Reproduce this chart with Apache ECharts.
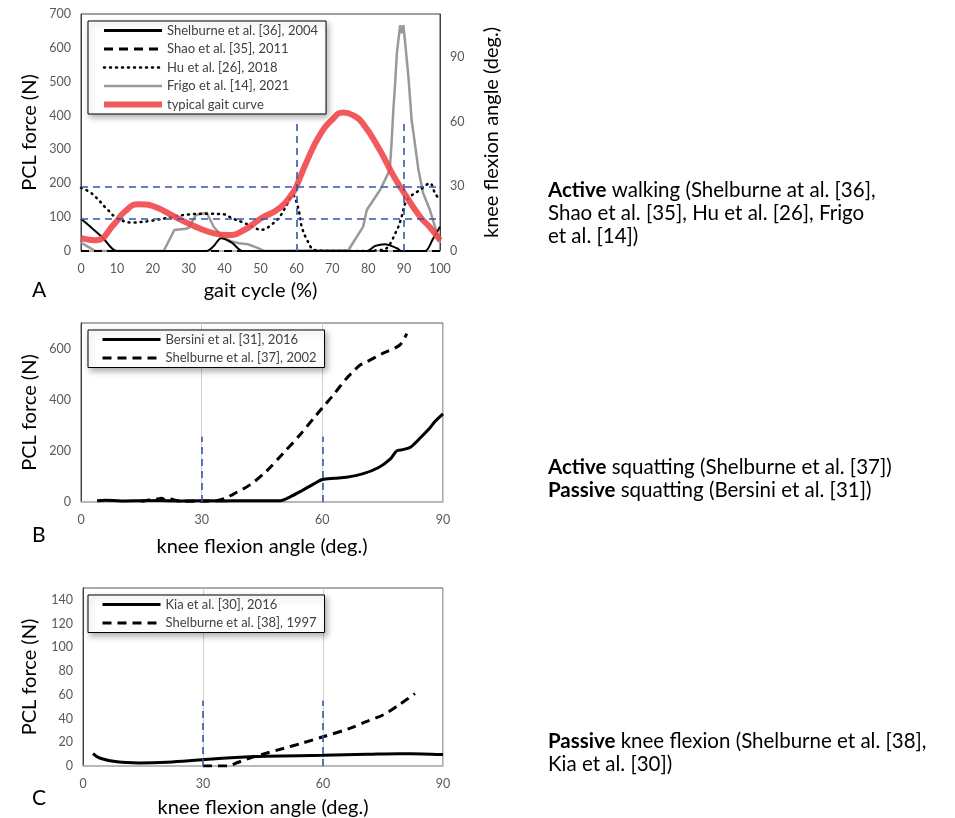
<!DOCTYPE html>
<html>
<head>
<meta charset="utf-8">
<title>PCL force</title>
<script src="https://cdn.jsdelivr.net/npm/echarts@6/dist/echarts.min.js"></script>
<style>
  html, body { margin: 0; padding: 0; background: #fff; }
  #main { width: 955px; height: 818px; }
</style>
</head>
<body>
<div id="main"></div>
<script>
// ---- panel A : walking, PCL force (N) vs gait cycle (%) ----
var shelburne04X = [0, 3, 6, 10, 35, 37, 39, 42, 45, 79.6, 82, 84.7, 88, 89.3, 95.8, 98, 100]
var shelburne04Y = [95, 68, 40, 0, 0, 15, 38, 25, 0, 0, 15, 20, 8, 0, 0, 35, 72]
var shao11X = [0, 25, 50, 75, 100]
var shao11Y = [0, 0, 0, 0, 0]
var hu18X = [0, 3, 7.5, 10, 14, 20, 25, 30, 35, 40, 42, 45, 48.5, 50, 54.6, 57, 59, 60.5, 61.5, 63, 65, 70, 80, 82.4, 84.7, 88, 89.3, 90.3, 91.6, 94.4, 97.2, 98.6, 100]
var hu18Y = [187, 170, 121, 97, 84, 90, 100, 108, 110, 108, 97, 85, 68, 62, 92, 130, 165, 127, 71, 32, 3, 0, 0, 2, 5, 62, 101, 140, 160, 180, 200, 171, 150]
var frigo21X = [0, 2, 4, 23, 24, 26, 29, 30, 32, 35, 37, 39.5, 42, 44, 46.5, 49, 51, 74.5, 78.6, 79.6, 83.3, 86, 86.5, 87, 87.5, 88, 88.4, 88.9, 89.3, 89.8, 90.3, 91.2, 92.1, 93, 94, 95.3, 97.2, 98.6, 100]
var frigo21Y = [25, 12, 0, 0, 20, 62, 66, 68, 106, 113, 71, 41, 28, 23, 20, 10, 0, 3, 72, 121, 180, 239, 318, 416, 495, 585, 623, 667, 643, 667, 614, 515, 387, 318, 239, 171, 121, 72, 23]
// typical gait curve, knee flexion angle (deg.)
var gaitX = [0, 4, 9.5, 12, 16, 20.6, 26, 32, 37, 41, 45.7, 50, 55.4, 59, 60, 63, 66.6, 70, 73, 75.8, 78.6, 83.3, 87, 90, 94.4, 97.2, 100]
var gaitY = [6, 5, 13, 18, 21.7, 20.5, 16, 11.2, 8.2, 7.4, 10, 15, 20, 27, 30, 42, 54, 61, 64.3, 63, 59, 46.6, 35, 27, 16, 11, 5]
var refDegA = [15, 30]       // horizontal reference lines (deg.)
var refCycleA = [60, 90]     // vertical reference lines (%)
var refCycleTopA = 60        // vertical lines reach 60 deg.

// ---- panel B : squatting ----
var bersini16X = [4, 6, 10, 15, 20, 25, 30, 35, 40, 45, 49.5, 52, 55, 58, 60, 63, 66, 70, 74, 77, 78.5, 80, 82, 84, 86.5, 88, 90]
var bersini16Y = [5, 7, 4, 5, 6, 4, 5, 4, 5, 5, 5, 20, 45, 72, 88, 93, 97, 110, 135, 170, 200, 205, 215, 245, 285, 315, 345]
var shelburne02X = [15, 17, 19, 20, 21, 22, 24, 26, 30, 34, 36, 37.8, 42, 46, 50.3, 54.4, 58.5, 60.6, 62.7, 66, 68, 69.3, 71, 75, 79.2, 81]
var shelburne02Y = [3, 8, 12, 15, 8, 12, 5, 3, 3, 6, 15, 30, 67, 119, 191, 262, 340, 379, 418, 483, 515, 535, 548, 581, 613, 658]
var refAngleB = [30, 60]
var refTopB = 255

// ---- panel C : passive knee flexion ----
var kia16X = [2.5, 4.3, 8.5, 14, 21, 29, 37, 46, 60, 71, 79, 85, 90]
var kia16Y = [10.5, 6.5, 3.5, 2.6, 3.2, 5, 7, 8.3, 9, 9.8, 10.3, 10.2, 9.6]
var shelburne97X = [30, 36, 39, 42.6, 46, 50, 55, 60, 66.7, 70.8, 75, 79, 83]
var shelburne97Y = [0, 0, 3.4, 7.7, 11, 14.7, 19.5, 24.6, 31.7, 37.4, 43, 51.6, 61]
var refAngleC = [30, 60]
var refTopC = 55

var FONT = 'Lato, "Open Sans", sans-serif'
var TICK = { color: '#595959', fontSize: 12.5, fontFamily: FONT }
var TITLE = { color: '#000', fontSize: 20, fontFamily: FONT }
var BLUE = '#3557a8'

// line looks, shared by series and legend icons
var SOLID = { color: '#000', width: 3 }
var DASHED = { color: '#000', width: 3, type: [9, 6] }
var DOTTED = { color: '#000', width: 2.5, type: [1, 5], cap: 'round' }
var GREY = { color: '#999999', width: 2.5 }
var RED = { color: '#f0474a', width: 6, opacity: 0.9 }

function zip(xs, ys) {
  return xs.map(function (x, i) { return [x, ys[i]] })
}

function vLines(xs, top) {
  return xs.map(function (x) { return [{ coord: [x, 0] }, { coord: [x, top] }] })
}

function refMark(data) {
  return {
    silent: true,
    symbol: 'none',
    label: { show: false },
    lineStyle: { color: BLUE, width: 1.6, type: [7, 5] },
    data: data
  }
}

function xAxisOf(gridIndex, max, interval, name, gap, split) {
  return {
    type: 'value',
    gridIndex: gridIndex,
    min: 0,
    max: max,
    interval: interval,
    name: name,
    nameLocation: 'middle',
    nameGap: gap,
    nameTextStyle: TITLE,
    axisLine: { show: true, onZero: false, lineStyle: { color: '#bfbfbf', width: 1.5 } },
    axisTick: { show: false },
    axisLabel: Object.assign({ margin: 11 }, TICK),
    splitLine: { show: split, lineStyle: { color: '#d0d0d0', width: 1 } }
  }
}

function yAxisOf(gridIndex, max, interval, name, gap, position) {
  return {
    type: 'value',
    gridIndex: gridIndex,
    position: position || 'left',
    min: 0,
    max: max,
    interval: interval,
    name: name,
    nameLocation: 'middle',
    nameGap: gap,
    nameTextStyle: TITLE,
    axisLine: { show: true, lineStyle: { color: '#404040', width: 1 } },
    axisTick: { show: false },
    axisLabel: Object.assign({ margin: 10, showMaxLabel: max % interval === 0 }, TICK),
    splitLine: { show: false }
  }
}

function legendOf(top, items) {
  return {
    orient: 'vertical',
    left: 88,
    top: top,
    data: items.map(function (it) { return { name: it[0], lineStyle: it[1], itemStyle: { opacity: 0 } } }),
    itemWidth: 58,
    itemHeight: 10,
    itemGap: 5.5,
    padding: [3, 8, 3, 13],
    borderColor: '#000',
    borderWidth: 1,
    backgroundColor: '#fff',
    shadowColor: 'rgba(0,0,0,0.3)',
    shadowBlur: 6,
    shadowOffsetX: 2,
    shadowOffsetY: 3,
    selectedMode: false,
    itemStyle: { opacity: 0 },
    textStyle: { color: '#404040', fontSize: 13, fontFamily: FONT, lineHeight: 12 }
  }
}

function lineSeries(name, xi, yi, data, style, smooth) {
  return {
    name: name,
    type: 'line',
    xAxisIndex: xi,
    yAxisIndex: yi,
    data: data,
    symbol: 'none',
    showSymbol: false,
    smooth: smooth || false,
    itemStyle: { color: style.color },
    lineStyle: style,
    z: 3
  }
}

var chart = echarts.init(document.getElementById('main'))

chart.setOption({
  animation: false,
  backgroundColor: '#fff',
  textStyle: { fontFamily: FONT },
  grid: [
    { left: 81, top: 14, width: 359, height: 237, show: true, borderColor: '#404040', borderWidth: 1, outerBoundsMode: 'none' },
    { left: 81, top: 323, width: 362, height: 179, show: true, borderColor: '#595959', borderWidth: 1, outerBoundsMode: 'none' },
    { left: 83, top: 588, width: 360, height: 178, show: true, borderColor: '#595959', borderWidth: 1, outerBoundsMode: 'none' }
  ],
  xAxis: [
    xAxisOf(0, 100, 10, 'gait cycle (%)', 30, false),
    xAxisOf(1, 90, 30, 'knee flexion angle (deg.)', 35, true),
    xAxisOf(2, 90, 30, 'knee flexion angle (deg.)', 32, true)
  ],
  yAxis: [
    yAxisOf(0, 700, 100, 'PCL force (N)', 41),
    yAxisOf(0, 110, 30, 'knee flexion angle (deg.)', 42, 'right'),
    yAxisOf(1, 700, 200, 'PCL force (N)', 41),
    yAxisOf(2, 150, 20, 'PCL force (N)', 43)
  ],
  legend: [
    legendOf(21, [
      ['Shelburne et al. [36], 2004', SOLID],
      ['Shao et al. [35], 2011', DASHED],
      ['Hu et al. [26], 2018', DOTTED],
      ['Frigo et al. [14], 2021', GREY],
      ['typical gait curve', RED]
    ]),
    legendOf(330, [['Bersini et al. [31], 2016', SOLID], ['Shelburne et al. [37], 2002', DASHED]]),
    legendOf(595, [['Kia et al. [30], 2016', SOLID], ['Shelburne et al. [38], 1997', DASHED]])
  ],
  series: [
    lineSeries('Frigo et al. [14], 2021', 0, 0, zip(frigo21X, frigo21Y), GREY),
    lineSeries('Shelburne et al. [36], 2004', 0, 0, zip(shelburne04X, shelburne04Y), { color: '#000', width: 2 }, 0.3),
    lineSeries('Shao et al. [35], 2011', 0, 0, zip(shao11X, shao11Y), { color: '#000', width: 2, type: [8, 5] }),
    lineSeries('Hu et al. [26], 2018', 0, 0, zip(hu18X, hu18Y), DOTTED, 0.35),
    Object.assign(
      lineSeries('typical gait curve', 0, 1, zip(gaitX, gaitY), RED, 0.5),
      {
        markLine: refMark(
          refDegA.map(function (d) { return { yAxis: d } }).concat(vLines(refCycleA, refCycleTopA))
        )
      }
    ),
    Object.assign(
      lineSeries('Bersini et al. [31], 2016', 1, 2, zip(bersini16X, bersini16Y), SOLID, 0.3),
      { markLine: refMark(vLines(refAngleB, refTopB)) }
    ),
    lineSeries('Shelburne et al. [37], 2002', 1, 2, zip(shelburne02X, shelburne02Y), DASHED, 0.3),
    Object.assign(
      lineSeries('Kia et al. [30], 2016', 2, 3, zip(kia16X, kia16Y), SOLID, 0.4),
      { markLine: refMark(vLines(refAngleC, refTopC)) }
    ),
    lineSeries('Shelburne et al. [38], 1997', 2, 3, zip(shelburne97X, shelburne97Y), DASHED, 0.3)
  ],
  graphic: [
    { type: 'text', left: 32, top: 280, style: { text: 'A', fontSize: 21, fontFamily: FONT, fill: '#000' } },
    { type: 'text', left: 32, top: 525, style: { text: 'B', fontSize: 21, fontFamily: FONT, fill: '#000' } },
    { type: 'text', left: 32, top: 788, style: { text: 'C', fontSize: 21, fontFamily: FONT, fill: '#000' } },
    {
      type: 'text', left: 548, top: 179,
      style: {
        text: '{b|Active} walking (Shelburne at al. [36],\nShao et al. [35], Hu et al. [26], Frigo\net al. [14])',
        fontSize: 20.5, fontFamily: FONT, fill: '#000', lineHeight: 23,
        rich: { b: { fontWeight: 'bold', fontSize: 20.5, fontFamily: FONT, lineHeight: 23 } }
      }
    },
    {
      type: 'text', left: 548, top: 456,
      style: {
        text: '{b|Active} squatting (Shelburne et al. [37])\n{b|Passive} squatting (Bersini et al. [31])',
        fontSize: 20.5, fontFamily: FONT, fill: '#000', lineHeight: 23,
        rich: { b: { fontWeight: 'bold', fontSize: 20.5, fontFamily: FONT, lineHeight: 23 } }
      }
    },
    {
      type: 'text', left: 548, top: 730,
      style: {
        text: '{b|Passive} knee flexion (Shelburne et al. [38],\nKia et al. [30])',
        fontSize: 20.5, fontFamily: FONT, fill: '#000', lineHeight: 23,
        rich: { b: { fontWeight: 'bold', fontSize: 20.5, fontFamily: FONT, lineHeight: 23 } }
      }
    }
  ]
})
</script>
</body>
</html>
